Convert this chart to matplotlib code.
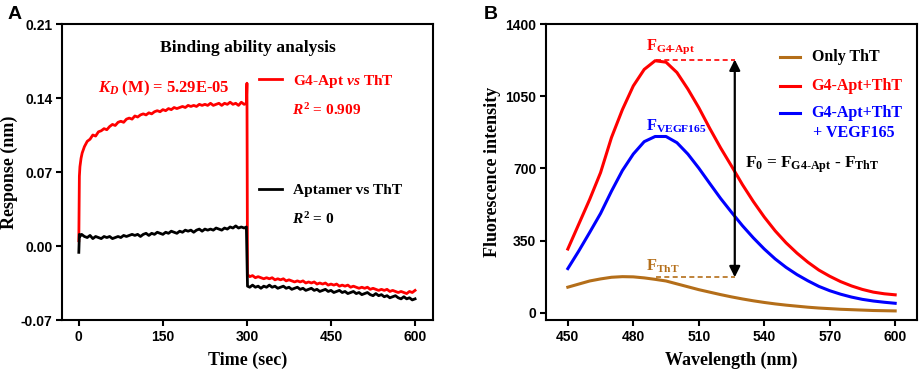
import matplotlib
matplotlib.use("Agg")
import matplotlib.pyplot as plt
import numpy as np

# ---------------- Panel A data (BLI sensorgram) ----------------
t_red = [0, 1, 2, 4, 6, 8, 10, 15, 20, 25, 30, 35, 40, 45, 50, 55, 60, 65, 70, 75, 80, 85,
         90, 95, 100, 105, 110, 115, 120, 125, 130, 135, 140, 145, 150, 155, 160, 165, 170,
         175, 180, 185, 190, 195, 200, 205, 210, 215, 220, 225, 230, 235, 240, 245, 250, 255,
         260, 265, 270, 275, 280, 285, 290, 295, 299, 300, 301, 305, 310, 315, 320, 325, 330,
         335, 340, 345, 350, 355, 360, 365, 370, 375, 380, 385, 390, 395, 400, 405, 410, 415,
         420, 425, 430, 435, 440, 445, 450, 455, 460, 465, 470, 475, 480, 485, 490, 495, 500,
         505, 510, 515, 520, 525, 530, 535, 540, 545, 550, 555, 560, 565, 570, 575, 580, 585,
         590, 595, 600]
y_red = [0.005, 0.066, 0.075, 0.083, 0.088, 0.091, 0.094, 0.099, 0.101, 0.105, 0.104, 0.108,
         0.109, 0.111, 0.110, 0.113, 0.115, 0.114, 0.117, 0.118, 0.117, 0.120, 0.121, 0.120,
         0.123, 0.122, 0.124, 0.125, 0.124, 0.126, 0.125, 0.127, 0.128, 0.127, 0.129, 0.128,
         0.130, 0.129, 0.131, 0.130, 0.131, 0.132, 0.131, 0.133, 0.132, 0.133, 0.132, 0.134,
         0.133, 0.134, 0.133, 0.135, 0.133, 0.134, 0.135, 0.133, 0.135, 0.134, 0.136, 0.134,
         0.135, 0.133, 0.136, 0.134, 0.135, 0.154, -0.027, -0.029, -0.028, -0.030, -0.029,
         -0.030, -0.031, -0.030, -0.031, -0.030, -0.032, -0.031, -0.032, -0.031, -0.033, -0.032,
         -0.033, -0.034, -0.033, -0.034, -0.033, -0.035, -0.034, -0.035, -0.034, -0.036, -0.035,
         -0.036, -0.035, -0.037, -0.036, -0.037, -0.036, -0.038, -0.037, -0.038, -0.037, -0.039,
         -0.038, -0.039, -0.040, -0.039, -0.040, -0.039, -0.041, -0.040, -0.041, -0.042, -0.041,
         -0.042, -0.041, -0.043, -0.042, -0.043, -0.044, -0.043, -0.044, -0.045, -0.043, -0.044,
         -0.042]

t_blk = [0, 1, 2, 5, 10, 15, 20, 25, 30, 35, 40, 45, 50, 55, 60, 65, 70, 75, 80, 85, 90, 95,
         100, 105, 110, 115, 120, 125, 130, 135, 140, 145, 150, 155, 160, 165, 170, 175, 180,
         185, 190, 195, 200, 205, 210, 215, 220, 225, 230, 235, 240, 245, 250, 255, 260, 265,
         270, 275, 280, 285, 290, 295, 299, 301, 305, 310, 315, 320, 325, 330, 335, 340, 345,
         350, 355, 360, 365, 370, 375, 380, 385, 390, 395, 400, 405, 410, 415, 420, 425, 430,
         435, 440, 445, 450, 455, 460, 465, 470, 475, 480, 485, 490, 495, 500, 505, 510, 515,
         520, 525, 530, 535, 540, 545, 550, 555, 560, 565, 570, 575, 580, 585, 590, 595, 600]
y_blk = [-0.006, 0.011, 0.009, 0.011, 0.009, 0.008, 0.010, 0.007, 0.009, 0.008, 0.007, 0.009,
         0.008, 0.009, 0.007, 0.008, 0.009, 0.008, 0.010, 0.009, 0.010, 0.011, 0.010, 0.011,
         0.009, 0.011, 0.012, 0.010, 0.012, 0.011, 0.013, 0.012, 0.011, 0.013, 0.012, 0.014,
         0.013, 0.012, 0.014, 0.013, 0.015, 0.014, 0.015, 0.013, 0.015, 0.016, 0.014, 0.016,
         0.015, 0.016, 0.015, 0.017, 0.016, 0.015, 0.017, 0.016, 0.018, 0.017, 0.019, 0.017,
         0.018, 0.017, 0.018, -0.038, -0.039, -0.037, -0.039, -0.038, -0.040, -0.038, -0.039,
         -0.037, -0.039, -0.038, -0.040, -0.039, -0.038, -0.040, -0.039, -0.041, -0.040, -0.039,
         -0.041, -0.040, -0.042, -0.041, -0.040, -0.042, -0.041, -0.043, -0.042, -0.041, -0.043,
         -0.042, -0.044, -0.043, -0.042, -0.044, -0.043, -0.045, -0.044, -0.043, -0.045, -0.044,
         -0.046, -0.045, -0.044, -0.046, -0.047, -0.045, -0.047, -0.046, -0.048, -0.047, -0.049,
         -0.048, -0.047, -0.049, -0.050, -0.048, -0.050, -0.049, -0.051, -0.050]

a_xticks = [0, 150, 300, 450, 600]
a_yticks = [-0.07, 0.00, 0.07, 0.14, 0.21]

# ---------------- Panel B data (fluorescence spectra) ----------------
wavelength = [450, 455, 460, 465, 470, 475, 480, 485, 490, 495, 500, 505, 510, 515, 520, 525,
              530, 535, 540, 545, 550, 555, 560, 565, 570, 575, 580, 585, 590, 595, 600]
only_tht = [125, 140, 155, 165, 173, 176, 175, 170, 163, 155, 141, 127, 113, 101, 89, 78,
            68, 59, 51, 44, 38, 33, 28, 24, 21, 18, 16, 14, 12, 11, 10]
g4_tht = [310, 430, 550, 680, 850, 985, 1100, 1180, 1222, 1215, 1165, 1085, 995, 895, 800,
          712, 622, 540, 465, 398, 340, 290, 246, 208, 178, 152, 131, 114, 101, 93, 88]
g4_tht_vegf = [215, 300, 390, 482, 590, 690, 770, 830, 855, 855, 825, 770, 702, 628, 555,
               488, 423, 364, 310, 262, 221, 186, 156, 129, 108, 91, 77, 66, 58, 52, 47]
b_xticks = [450, 480, 510, 540, 570, 600]
b_yticks = [0, 350, 700, 1050, 1400]

F_g4 = 1228
F_tht = 173
peak_wl = 490.6
arrow_wl = 526.5

RED = '#ff0000'
BLUE = '#0000ff'
BROWN = '#b46e19'

plt.rcParams['mathtext.fontset'] = 'custom'
plt.rcParams['mathtext.rm'] = 'Liberation Serif:bold'
plt.rcParams['mathtext.it'] = 'Liberation Serif:italic:bold'
plt.rcParams['mathtext.bf'] = 'Liberation Serif:bold'

SERIF = 'Liberation Serif'
SANS = 'Liberation Sans'

fig = plt.figure(figsize=(9.2, 3.71), dpi=100)
axA = fig.add_axes([62/920, 51/371, 371/920, 296/371])
axB = fig.add_axes([546/920, 51/371, 371/920, 296/371])


def style_axes(ax):
    for s in ax.spines.values():
        s.set_linewidth(1.5)
        s.set_color('black')
    ax.tick_params(axis='both', direction='out', length=4, width=1.5,
                   top=False, right=False, pad=3)
    for lbl in ax.get_xticklabels() + ax.get_yticklabels():
        lbl.set_fontfamily(SANS)
        lbl.set_fontweight('bold')
        lbl.set_fontsize(10)


# ---------------- Panel A ----------------
lr, = axA.plot(t_red, y_red, color=RED, lw=2)
lb, = axA.plot(t_blk, y_blk, color='black', lw=2)
axA.set_xlim(-30, 632)
axA.set_ylim(-0.07, 0.21)
axA.set_xticks(a_xticks)
axA.set_yticks(a_yticks)
axA.set_yticklabels([f'{v:.2f}' for v in a_yticks])
style_axes(axA)
axA.set_ylabel('Response (nm)', family=SERIF, fontweight='bold', fontsize=13)
axA.set_xlabel('Time (sec)', family=SERIF, fontweight='bold', fontsize=13)
axA.yaxis.set_label_coords(-0.142, 0.5)
axA.xaxis.set_label_coords(0.5, -0.135)
axA.xaxis.label.set_va('center')
axA.yaxis.label.set_va('center')

axA.text(0.5, 0.919, 'Binding ability analysis', transform=axA.transAxes,
         ha='center', va='center', family=SERIF, fontweight='bold', fontsize=12.6)
axA.text(34, 0.1494, r'$K_D$ (M) = 5.29E-05', color=RED, ha='left', va='center',
         family=SERIF, fontweight='bold', fontsize=11.9)

leg1 = axA.legend([lr], [r'G4-Apt $vs$ ThT'], loc='center left',
                  bbox_to_anchor=(0.53, 0.807), frameon=False, borderpad=0,
                  borderaxespad=0, handlelength=1.5, handletextpad=0.75,
                  prop={'family': SERIF, 'weight': 'bold', 'size': 11.1})
for tx in leg1.get_texts():
    tx.set_color(RED)
axA.add_artist(leg1)
leg2 = axA.legend([lb], ['Aptamer vs ThT'], loc='center left',
                  bbox_to_anchor=(0.53, 0.439), frameon=False, borderpad=0,
                  borderaxespad=0, handlelength=1.5, handletextpad=0.75,
                  prop={'family': SERIF, 'weight': 'bold', 'size': 11.1})
axA.text(0.62, 0.709, r'$R^2$ = 0.909', transform=axA.transAxes, color=RED,
         ha='left', va='center', family=SERIF, fontweight='bold', fontsize=11.1)
axA.text(0.62, 0.341, r'$R^2$ = 0', transform=axA.transAxes, color='black',
         ha='left', va='center', family=SERIF, fontweight='bold', fontsize=11.1)

# ---------------- Panel B ----------------
axB.plot(wavelength, only_tht, color=BROWN, lw=2.2)
axB.plot(wavelength, g4_tht, color=RED, lw=2.2)
axB.plot(wavelength, g4_tht_vegf, color=BLUE, lw=2.2)
axB.set_xlim(440, 610)
axB.set_ylim(-34, 1400)
axB.set_xticks(b_xticks)
axB.set_yticks(b_yticks)
style_axes(axB)
axB.set_ylabel('Fluorescence intensity', family=SERIF, fontweight='bold', fontsize=13)
axB.set_xlabel('Wavelength (nm)', family=SERIF, fontweight='bold', fontsize=13)
axB.yaxis.set_label_coords(-0.145, 0.5)
axB.xaxis.set_label_coords(0.5, -0.135)
axB.xaxis.label.set_va('center')
axB.yaxis.label.set_va('center')

axB.plot([peak_wl, arrow_wl], [F_g4, F_g4], color=RED, lw=1.2, ls=(0, (3, 2)))
axB.plot([peak_wl, arrow_wl], [F_tht, F_tht], color=BROWN, lw=1.2, ls=(0, (3, 2)))
axB.annotate('', xy=(arrow_wl, F_g4), xytext=(arrow_wl, F_tht),
             arrowprops=dict(arrowstyle='<|-|>', color='black', lw=1.6,
                             mutation_scale=16, shrinkA=0, shrinkB=0))

fs_ann = 11.8
axB.text(486, 1290, r'F$_{\mathrm{G4\text{-}Apt}}$', color=RED, ha='left', va='center',
         family=SERIF, fontweight='bold', fontsize=fs_ann)
axB.text(486, 902, r'F$_{\mathrm{VEGF165}}$', color=BLUE, ha='left', va='center',
         family=SERIF, fontweight='bold', fontsize=fs_ann)
axB.text(486, 224, r'F$_{\mathrm{ThT}}$', color=BROWN, ha='left', va='center',
         family=SERIF, fontweight='bold', fontsize=fs_ann)
axB.text(531, 717, r'F$_0$ = F$_{\mathrm{G4\text{-}Apt}}$ - F$_{\mathrm{ThT}}$', color='black',
         ha='left', va='center', family=SERIF, fontweight='bold', fontsize=12.3)

# legend of panel B
leg_entries = [(BROWN, 'Only ThT', 'black', 0.889),
               (RED, 'G4-Apt+ThT', RED, 0.791),
               (BLUE, 'G4-Apt+ThT', BLUE, 0.699)]
for c, lab, tc, yy in leg_entries:
    axB.plot([0.631, 0.685], [yy, yy], color=c, lw=2.2, transform=axB.transAxes)
    axB.text(0.716, yy, lab, color=tc, transform=axB.transAxes, ha='left', va='center',
             family=SERIF, fontweight='bold', fontsize=11.5)
axB.text(0.72, 0.632, '+ VEGF165', color=BLUE, transform=axB.transAxes, ha='left',
         va='center', family=SERIF, fontweight='bold', fontsize=11.5)

fig.text(0.008, 0.985, 'A', ha='left', va='top', family=SANS, fontweight='bold', fontsize=14)
fig.text(0.526, 0.985, 'B', ha='left', va='top', family=SANS, fontweight='bold', fontsize=14)

fig.savefig('out.png', dpi=100)
